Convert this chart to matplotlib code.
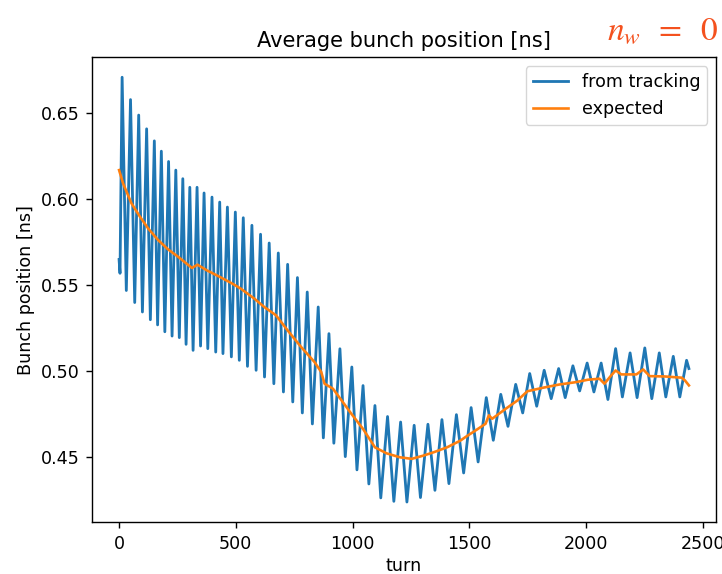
import matplotlib
matplotlib.use("Agg")
import matplotlib.pyplot as plt

track_turn = [0, 4, 13, 31, 49, 67, 84, 100, 118, 134, 151, 165, 181, 196, 212, 227,
              243, 258, 273, 287, 303, 317, 334, 349, 364, 380, 398, 414, 431, 445,
              464, 481, 498, 515, 532, 550, 569, 587, 606, 623, 643, 663, 682, 704,
              722, 744, 764, 785, 806, 828, 853, 875, 899, 920, 946, 969, 997, 1019,
              1045, 1070, 1096, 1121, 1150, 1177, 1206, 1233, 1264, 1291, 1323, 1353,
              1383, 1413, 1445, 1476, 1508, 1538, 1573, 1603, 1635, 1666, 1699, 1729,
              1759, 1789, 1821, 1851, 1883, 1911, 1944, 1973, 2005, 2034, 2065, 2094,
              2127, 2156, 2189, 2219, 2252, 2282, 2314, 2342, 2374, 2402, 2431, 2441]
track_pos = [0.565, 0.557, 0.671, 0.547, 0.658, 0.540, 0.649, 0.5345, 0.641, 0.530,
             0.634, 0.527, 0.628, 0.523, 0.622, 0.5205, 0.617, 0.5196, 0.612, 0.5157,
             0.607, 0.5122, 0.607, 0.5147, 0.6037, 0.5132, 0.6013, 0.5112, 0.5984,
             0.5103, 0.5955, 0.5084, 0.5926, 0.5064, 0.5893, 0.5029, 0.5849, 0.5006,
             0.5797, 0.4967, 0.5746, 0.4928, 0.5688, 0.4880, 0.5622, 0.4822, 0.5545,
             0.4758, 0.5461, 0.4694, 0.5374, 0.4613, 0.5219, 0.4582, 0.5131, 0.4504,
             0.5025, 0.4427, 0.4917, 0.4345, 0.4801, 0.4264, 0.4737, 0.4244, 0.4705,
             0.4240, 0.4686, 0.4266, 0.4692, 0.4308, 0.4719, 0.4347, 0.4748, 0.4409,
             0.4789, 0.4473, 0.4847, 0.4599, 0.4866, 0.4680, 0.4924, 0.4758, 0.4987,
             0.4797, 0.5006, 0.4841, 0.5016, 0.4847, 0.5032, 0.4886, 0.5048, 0.4880,
             0.5048, 0.4836, 0.5132, 0.4851, 0.5107, 0.4847, 0.5136, 0.4841, 0.5107,
             0.4851, 0.5087, 0.4851, 0.5064, 0.5016]

# expected position
exp_turn = [0, 17, 53, 89, 125, 168, 211, 254, 312, 336, 376, 433, 485, 521, 579, 622,
            672, 722, 780, 837, 866, 880, 916, 959, 995, 1045, 1096, 1146, 1203, 1254,
            1304, 1347, 1405, 1462, 1483, 1527, 1570, 1584, 1598, 1656, 1706, 1749,
            1814, 1885, 1957, 2008, 2058, 2079, 2108, 2127, 2151, 2216, 2245, 2273,
            2338, 2410, 2424, 2441]
exp_pos = [0.617, 0.6093, 0.5977, 0.590, 0.583, 0.5762, 0.5708, 0.5665, 0.5601, 0.562,
           0.5587, 0.5548, 0.5510, 0.5481, 0.5423, 0.5374, 0.5326, 0.5238, 0.5141,
           0.5054, 0.4996, 0.4928, 0.4899, 0.4820, 0.4753, 0.4665, 0.4558, 0.4523,
           0.4500, 0.4491, 0.4510, 0.4529, 0.4558, 0.4597, 0.4617, 0.4656, 0.4695,
           0.4744, 0.4724, 0.4782, 0.4830, 0.4884, 0.4904, 0.4923, 0.4937, 0.4951,
           0.4957, 0.4928, 0.4976, 0.5005, 0.4982, 0.4982, 0.5011, 0.4972, 0.4970,
           0.4963, 0.4947, 0.4918]

s = 1.258  # screenshot scale
plt.rcParams['font.size'] = 10 * s
plt.rcParams['axes.linewidth'] = 0.8 * s
for a in ('xtick', 'ytick'):
    plt.rcParams[a + '.major.size'] = 3.5 * s
    plt.rcParams[a + '.major.width'] = 0.8 * s
    plt.rcParams[a + '.major.pad'] = 3.5 * s

fig = plt.figure(figsize=(7.22, 5.74), dpi=100)
ax = fig.add_axes([92 / 722, 1 - 522.3 / 574, 624 / 722, 465 / 574])

ax.plot(track_turn, track_pos, color='#1f77b4', lw=1.6 * s,
        solid_joinstyle='round', label='from tracking')
ax.plot(exp_turn, exp_pos, color='#ff7f0e', lw=1.5 * s, label='expected')

ax.set_xticks([0, 500, 1000, 1500, 2000, 2500])
ax.set_yticks([0.45, 0.50, 0.55, 0.60, 0.65])
ax.set_ylim(0.4122, 0.6826)
ax.set_xlim(-116, 2557)
ax.set_xlabel('turn', labelpad=3)
ax.set_ylabel('Bunch position [ns]')
ax.set_title('Average bunch position [ns]', fontsize=12 * s, pad=6 * s)
ax.legend(loc='upper right')

# label pasted on top of the screenshot
fig.text(0.9945, 1 - 40 / 574, r'$n_w\;\;=\;\;0$', color='#f4511e', fontsize=24,
         ha='right', va='baseline', math_fontfamily='stix')

fig.savefig('out.png', dpi=100)
